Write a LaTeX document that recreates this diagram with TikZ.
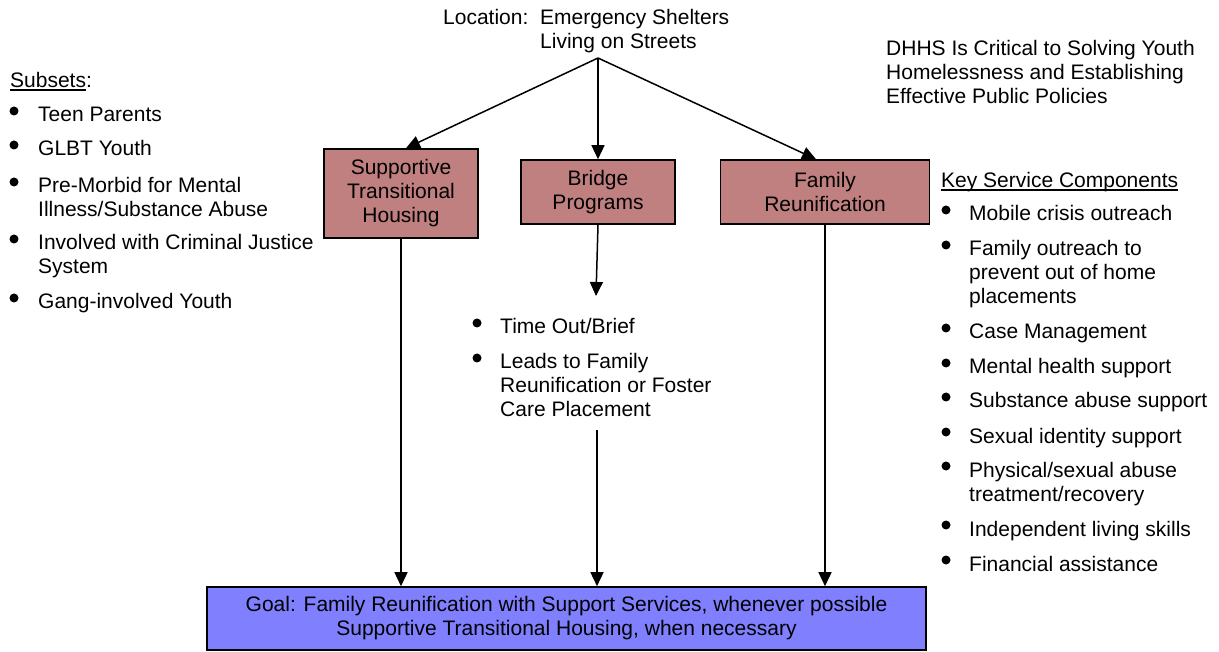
\documentclass[tikz,border=0pt]{standalone}
\usepackage{fontspec}
\setmainfont{Liberation Sans}
\usetikzlibrary{arrows.meta}
\definecolor{boxred}{RGB}{192,128,128}
\definecolor{goalblue}{RGB}{128,128,255}
\newcommand\ulx[1]{\setbox0\hbox{#1}\rlap{\rule[-2.6pt]{\wd0}{1.3pt}}\box0}
\newcommand\bul[2]{\fill (#1,#2) circle[radius=4.5pt];}
\begin{document}
\begin{tikzpicture}[x=1pt,y=-1pt,
  txt/.style={inner sep=0pt, anchor=base west, font=\fontsize{21}{24}\selectfont},
  box/.style={draw, line width=1.6pt, align=center, inner sep=0pt, font=\fontsize{21}{24}\selectfont},
  arr/.style={line width=1.5pt, -{Triangle[length=14pt,width=13pt]}}]
\useasboundingbox (0,0) rectangle (1219,652);

% top location text
\node[txt] (loc) at (443,25) {Location:};
\node[txt] (loc1) at (540,25) {Emergency Shelters};
\node[txt] (loc2) at (540,49) {Living on Streets};
\coordinate (apex) at (598,58);

% DHHS
\node[txt] (d1) at (886,56) {DHHS Is Critical to Solving Youth};
\node[txt] (d2) at (886,80) {Homelessness and Establishing};
\node[txt] (d3) at (886,104) {Effective Public Policies};

% boxes
\node[box, fill=boxred, minimum width=154pt, minimum height=89pt] (b1) at (401,193.5) {\rule{0pt}{3pt}Supportive\\Transitional\\Housing};
\node[box, fill=boxred, minimum width=154pt, minimum height=64pt] (b2) at (598,192) {\rule{0pt}{3pt}Bridge\\Programs};
\node[box, fill=boxred, minimum width=209pt, minimum height=64pt] (b3) at (825,192) {\rule{0pt}{3pt}Family\\Reunification};
\node[box, fill=goalblue, minimum width=719pt, minimum height=63pt] (goal) at (566.5,618.5) {Goal: Family Reunification with Support Services, whenever possible\\Supportive Transitional Housing, when necessary};

% left subsets list
\node[txt] (sub) at (10,88) {\ulx{Subsets}:};
\node[txt] (s1) at (38,122) {Teen Parents};
\node[txt] (s2) at (38,156) {GLBT Youth};
\node[txt] (s3a) at (38,193) {Pre-Morbid for Mental};
\node[txt] (s3b) at (38,217) {Illness/Substance Abuse};
\node[txt] (s4a) at (38,250) {Involved with Criminal Justice};
\node[txt] (s4b) at (38,274) {System};
\node[txt] (s5) at (38,309) {Gang-involved Youth};
\bul{14}{111}\bul{14}{145}\bul{14}{182}\bul{14}{239}\bul{14}{298}

% middle list
\node[txt] (m1) at (500,334) {Time Out/Brief};
\node[txt] (m2a) at (500,369) {Leads to Family};
\node[txt] (m2b) at (500,393) {Reunification or Foster};
\node[txt] (m2c) at (500,417) {Care Placement};
\bul{477}{323}\bul{477}{358}
\coordinate (midtop) at (596,296);
\coordinate (midbot) at (597,430);

% right list
\node[txt] (k0) at (941,188) {\ulx{Key Service Components}};
\node[txt] (k1) at (969,221) {Mobile crisis outreach};
\node[txt] (k2a) at (969,256) {Family outreach to};
\node[txt] (k2b) at (969,280) {prevent out of home};
\node[txt] (k2c) at (969,304) {placements};
\node[txt] (k3) at (969,339) {Case Management};
\node[txt] (k4) at (969,374) {Mental health support};
\node[txt] (k5) at (969,408) {Substance abuse support};
\node[txt] (k6) at (969,443) {Sexual identity support};
\node[txt] (k7a) at (969,477) {Physical/sexual abuse};
\node[txt] (k7b) at (969,501) {treatment/recovery};
\node[txt] (k8) at (969,536) {Independent living skills};
\node[txt] (k9) at (969,571) {Financial assistance};
\foreach \yy in {210,245,328,363,397,432,466,525,560} {\bul{946}{\yy}}

% connectors
\draw[arr] (apex) -- ([xshift=5pt]b1.north);
\draw[arr] (apex) -- (b2.north);
\draw[arr] (apex) -- ([xshift=-9pt]b3.north);
\draw[arr] (b1.south) -- (b1.south |- goal.north);
\draw[arr] (b2.south) -- (midtop);
\draw[arr] (midbot) -- (midbot |- goal.north);
\draw[arr] (b3.south) -- (b3.south |- goal.north);
\end{tikzpicture}
\end{document}
